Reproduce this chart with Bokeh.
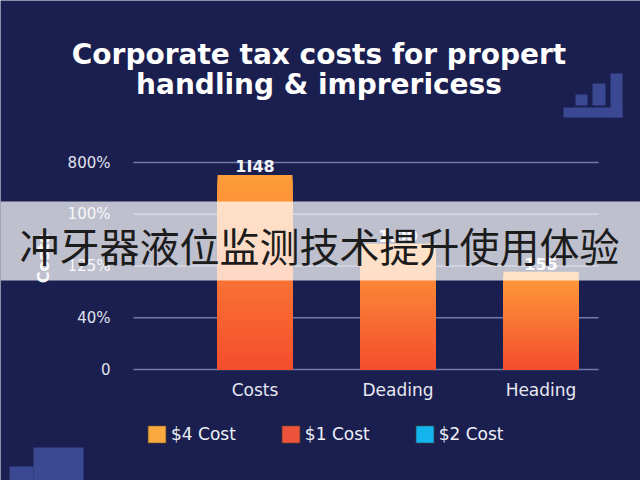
import numpy as np
from bokeh.plotting import figure
from bokeh.models import (Range1d, FixedTicker, Label, BoxAnnotation, Legend,
                          LegendItem)
from bokeh.embed import file_html
from bokeh.resources import INLINE
from bokeh.core.properties import value

# ---------------- data ----------------
title_lines = ["Corporate tax costs for propert", "handling & imprericess"]
categories = ["Costs", "Deading", "Heading"]
bar_values = [3.76, 2.43, 1.89]
bar_labels = ["1I48", "1.00", "155"]
y_ticks = [0, 1, 2, 3, 4]
y_tick_labels = ["0", "40%", "125%", "100%", "800%"]
y_axis_title = "Costs"
legend_labels = ["$4 Cost", "$1 Cost", "$2 Cost"]
legend_colors = ["#f9a93f", "#ee533b", "#14b4ee"]
banner_text = "冲牙器液位监测技术提升使用体验"

# ---------------- style / layout ----------------
BG = "#1a1f50"
DECO = "#3a4991"
W, H = 640, 480
X0_PX, X_STEP = 254.5, 143.0      # centre of first bar, distance between bars
Y0_PX, Y_STEP = 369.0, 51.75      # zero line, distance between ticks
GRID_L_PX, GRID_R_PX = 133.0, 598.0
BAR_W = 75.0 / X_STEP
FONT = "DejaVu Sans"

x_range = Range1d(-X0_PX / X_STEP, (W - X0_PX) / X_STEP)
y_range = Range1d(-(H - Y0_PX) / Y_STEP, Y0_PX / Y_STEP)

p = figure(width=W, height=H, x_range=x_range, y_range=y_range,
           output_backend="svg", toolbar_location=None,
           min_border=0, min_border_left=0, min_border_right=0,
           min_border_top=0, min_border_bottom=0)
p.background_fill_color = BG
p.border_fill_color = BG
p.outline_line_color = None
p.grid.visible = False

# ---------------- grid lines ----------------
gx0 = (GRID_L_PX - X0_PX) / X_STEP
gx1 = (GRID_R_PX - X0_PX) / X_STEP
p.segment(x0=[gx0] * len(y_ticks), x1=[gx1] * len(y_ticks), y0=y_ticks, y1=y_ticks,
          line_color="#737aa3", line_width=1.5)

# ---------------- gradient bars (nested rects, tallest first) ----------------
top_rgb = np.array([255, 158, 58])
bot_rgb = np.array([244, 78, 46])
N = 48
xs, tops, cols = [], [], []
for i, v in enumerate(bar_values):
    for k in range(N, 0, -1):
        t = (k - 0.5) / N
        c = (bot_rgb + (top_rgb - bot_rgb) * t).astype(int)
        xs.append(i)
        tops.append(v * k / N)
        cols.append("#%02x%02x%02x" % tuple(c))
p.vbar(x=xs, bottom=0, top=tops, width=BAR_W, fill_color=cols, line_color=None)

# value labels above bars
p.text(x=list(range(len(categories))), y=bar_values, text=bar_labels,
       text_align="center", text_baseline="alphabetic", y_offset=-8,
       text_color="#f2f3f8", text_font=value(FONT), text_font_style="bold",
       text_font_size="16px")

# ---------------- axes ----------------
xa = p.xaxis[0]
xa.fixed_location = 0
xa.ticker = FixedTicker(ticks=list(range(len(categories))))
xa.major_label_overrides = {i: c for i, c in enumerate(categories)}
xa.axis_line_color = None
xa.major_tick_line_color = None
xa.minor_tick_line_color = None
xa.major_tick_out = 0
xa.major_tick_in = 0
xa.major_label_standoff = 10
xa.major_label_text_color = "#e6e8f0"
xa.major_label_text_font = FONT
xa.major_label_text_font_size = "17px"

ya = p.yaxis[0]
ya.fixed_location = gx0
ya.ticker = FixedTicker(ticks=y_ticks)
ya.major_label_overrides = {t: l for t, l in zip(y_ticks, y_tick_labels)}
ya.axis_line_color = None
ya.major_tick_line_color = None
ya.minor_tick_line_color = None
ya.major_tick_out = 0
ya.major_tick_in = 0
ya.major_label_standoff = 23
ya.major_label_text_color = "#e0e2ec"
ya.major_label_text_font = FONT
ya.major_label_text_font_size = "15px"

# y axis title
p.add_layout(Label(x=43, y=H - 258, x_units="screen", y_units="screen", text=y_axis_title,
                   angle=np.pi / 2, text_align="center", text_baseline="middle",
                   text_color="#eef0f6", text_font=FONT, text_font_style="bold",
                   text_font_size="16px", level="underlay"))

# ---------------- title ----------------
for line, base in zip(title_lines, [54, 84]):
    p.add_layout(Label(x=318.5, y=H - base, x_units="screen", y_units="screen", text=line,
                       text_align="center", text_baseline="alphabetic",
                       text_color="white", text_font=FONT, text_font_style="bold",
                       text_font_size="28px"))

# ---------------- decorations ----------------
def deco(l, t, r, b):
    p.add_layout(BoxAnnotation(left=l, right=r, top=H - t, bottom=H - b,
                               left_units="screen", right_units="screen",
                               top_units="screen", bottom_units="screen",
                               fill_color=DECO, fill_alpha=1, line_color=None,
                               level="underlay"))

deco(563, 107, 622, 117)
deco(610, 73, 622, 117)
deco(592, 83, 605, 105)
deco(575, 94, 587, 105)
deco(9, 466, 33, 480)
deco(33, 447, 83, 480)

# ---------------- legend ----------------
items = []
for lab, col in zip(legend_labels, legend_colors):
    r = p.vbar(x=[np.nan], top=[np.nan], width=0.5, fill_color=col, line_color="#2a2a35")
    items.append(LegendItem(label=lab, renderers=[r]))
legend = Legend(items=items, location=(145, 35), orientation="horizontal",
                background_fill_alpha=0, border_line_color=None, padding=0, margin=0,
                spacing=43, glyph_width=23, glyph_height=22, label_standoff=3,
                label_text_color="#eef0f6", label_text_font=FONT,
                label_text_font_size="17px")
p.add_layout(legend)

# ---------------- banner ----------------
p.add_layout(BoxAnnotation(top=H - 201, bottom=H - 280, top_units="screen",
                           bottom_units="screen", fill_color="white", fill_alpha=0.72,
                           line_color=None))
p.add_layout(Label(x=319, y=H - 244, x_units="screen", y_units="screen", text=banner_text,
                   text_align="center", text_baseline="middle", text_color="#1c1c1c",
                   text_font="Noto Sans CJK SC", text_font_size="40px", level="overlay"))

html = file_html(p, INLINE, title="chart")
open("out.html", "w").write(html)
